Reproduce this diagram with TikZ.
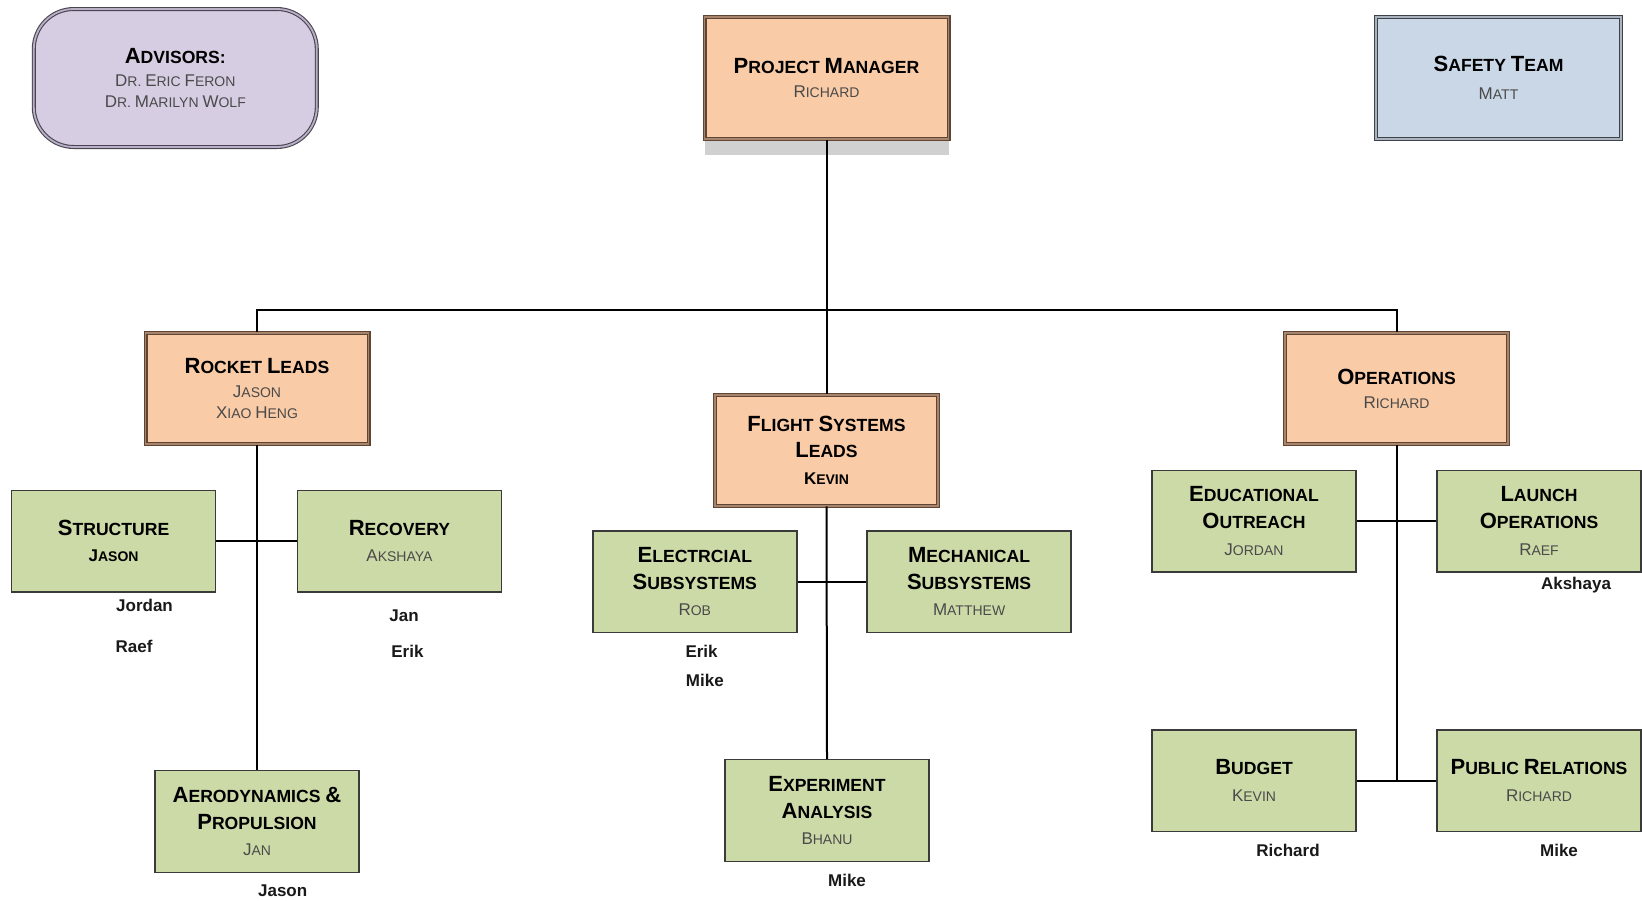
\documentclass[tikz,border=0pt]{standalone}
\usepackage{fontspec}
\setmainfont{Liberation Sans}
\definecolor{peach}{HTML}{F9CBA6}
\definecolor{leadline}{HTML}{5E4535}
\definecolor{leadmid}{HTML}{A8846A}
\definecolor{teamfill}{HTML}{CCDAA8}
\definecolor{teamline}{HTML}{3A3A3A}
\definecolor{lav}{HTML}{D6CDE3}
\definecolor{lavline}{HTML}{4A4550}
\definecolor{lavmid}{HTML}{B9B0C8}
\definecolor{sky}{HTML}{C9D7E7}
\definecolor{skyline}{HTML}{3E434A}
\definecolor{skymid}{HTML}{A9B4C0}
\definecolor{namegray}{HTML}{4A4A4A}
\definecolor{shadowgray}{HTML}{D0D0D0}
\newcommand\bigT{\fontsize{11}{13.3}\selectfont}
\newcommand\bigN{\fontsize{8.5}{13.3}\selectfont}
\newcommand\w[1]{\wx#1\relax}
\def\wx#1#2\relax{{\bigsz#1}\MakeUppercase{#2}}
\newcommand\Ttl[1]{{\let\bigsz\bigT\fontsize{8.8}{13.3}\selectfont\bfseries #1}}
\newcommand\Nm[1]{{\let\bigsz\bigN\fontsize{7}{13.3}\selectfont\mdseries\color{namegray}#1}}
\newcommand\NmB[1]{{\let\bigsz\bigN\fontsize{7}{13.3}\selectfont\bfseries\color{black}#1}}
\tikzset{
  box/.style={rectangle, inner sep=0pt, align=center, font=\fontsize{8.8}{13.3}\selectfont},
  lead/.style={box, fill=peach, draw=leadline, double=leadmid, line width=0.55pt, double distance=0.9pt, minimum width=111.5pt, minimum height=55.5pt},
  team/.style={box, fill=teamfill, draw=teamline, line width=0.7pt, minimum width=102pt, minimum height=50.8pt},
  lbl/.style={inner sep=0pt, font=\fontsize{8.5}{10}\selectfont\bfseries, text=black!90},
  link/.style={draw=black, line width=1pt}
}
\begin{document}
\begin{tikzpicture}[x=0.5pt,y=-0.5pt]
\useasboundingbox (0,0) rectangle (1642,900);
% shadow under project manager
\fill[shadowgray] (704.8,130) rectangle (948.8,155);
% top row
\node[box, fill=lav, draw=lavline, double=lavmid, line width=0.55pt, double distance=0.9pt,
      rounded corners=20pt, minimum width=141.5pt, minimum height=69pt] (adv) at (175.3,78)
  {\Ttl{\w{Advisors:}}\\[-1.6pt]\Nm{\w{Dr.} \w{Eric} \w{Feron}}\\[-2.6pt]\Nm{\w{Dr.} \w{Marilyn} \w{Wolf}}};
\node[lead, minimum width=122pt, minimum height=61pt] (pm) at (826.5,78)
  {\Ttl{\w{Project} \w{Manager}}\\[-1.6pt]\Nm{\w{Richard}}};
\node[box, fill=sky, draw=skyline, double=skymid, line width=0.55pt, double distance=0.9pt,
      minimum width=122.5pt, minimum height=61pt] (safety) at (1498.5,78)
  {\Ttl{\w{Safety} \w{Team}}\\[0.7pt]\Nm{\w{Matt}}};
% leads
\node[lead] (rocket) at (257,388.5)
  {\Ttl{\w{Rocket} \w{Leads}}\\[-1.3pt]\Nm{\w{Jason}}\\[-2.6pt]\Nm{\w{Xiao} \w{Heng}}};
\node[lead] (flight) at (826.5,450.3)
  {\Ttl{\w{Flight} \w{Systems}}\\\Ttl{\w{Leads}}\\\NmB{\w{Kevin}}};
\node[lead] (ops) at (1396.5,388.5)
  {\Ttl{\w{Operations}}\\[-1.3pt]\Nm{\w{Richard}}};
% teams
\node[team] (structure) at (113.6,541) {\Ttl{\w{Structure}}\\\NmB{\w{Jason}}};
\node[team] (recovery) at (399.5,541) {\Ttl{\w{Recovery}}\\\Nm{\w{Akshaya}}};
\node[team] (aero) at (257,821.5) {\Ttl{\w{Aerodynamics} {\bigT\&}}\\\Ttl{\w{Propulsion}}\\\Nm{\w{Jan}}};
\node[team] (elec) at (694.8,581.7) {\Ttl{\w{Electrcial}}\\\Ttl{\w{Subsystems}}\\\Nm{\w{Rob}}};
\node[team] (mech) at (969.1,581.7) {\Ttl{\w{Mechanical}}\\\Ttl{\w{Subsystems}}\\\Nm{\w{Matthew}}};
\node[team] (exp) at (827,810.5) {\Ttl{\w{Experiment}}\\\Ttl{\w{Analysis}}\\\Nm{\w{Bhanu}}};
\node[team] (edu) at (1254,521) {\Ttl{\w{Educational}}\\\Ttl{\w{Outreach}}\\\Nm{\w{Jordan}}};
\node[team] (launch) at (1539,521) {\Ttl{\w{Launch}}\\\Ttl{\w{Operations}}\\\Nm{\w{Raef}}};
\node[team] (budget) at (1254,780.7) {\Ttl{\w{Budget}}\\\Nm{\w{Kevin}}};
\node[team] (pr) at (1539,780.7) {\Ttl{\w{Public} \w{Relations}}\\\Nm{\w{Richard}}};
% member labels
\node[lbl] (l1) at (144.5,605.3) {Jordan};
\node[lbl] (l2) at (134,646) {Raef};
\node[lbl] (l3) at (404,615.7) {Jan};
\node[lbl] (l4) at (407.4,651.4) {Erik};
\node[lbl] (l5) at (282.7,891) {Jason};
\node[lbl] (l6) at (701.6,651.4) {Erik};
\node[lbl] (l7) at (704.8,680.7) {Mike};
\node[lbl] (l8) at (847,880.7) {Mike};
\node[lbl] (l9) at (1576,585.4) {Akshaya};
\node[lbl] (l10) at (1288,850.3) {Richard};
\node[lbl] (l11) at (1559,850.3) {Mike};
% connectors
\coordinate (busL) at (257,310);
\coordinate (busR) at (1396.5,310);
\coordinate (opsEnd) at (1396.5,780.7);
\draw[link] (pm.south) -- (flight.north);
\draw[link] (rocket.north) -- (busL) -- (busR) -- (ops.north);
\draw[link] (rocket.south) -- (aero.north);
\draw[link] (structure.east) -- (recovery.west);
\draw[link] (flight.south) -- (exp.north);
\draw[link] (elec.east) -- (mech.west);
\draw[link] (ops.south) -- (opsEnd);
\draw[link] (edu.east) -- (launch.west);
\draw[link] (budget.east) -- (pr.west);
\end{tikzpicture}
\end{document}
